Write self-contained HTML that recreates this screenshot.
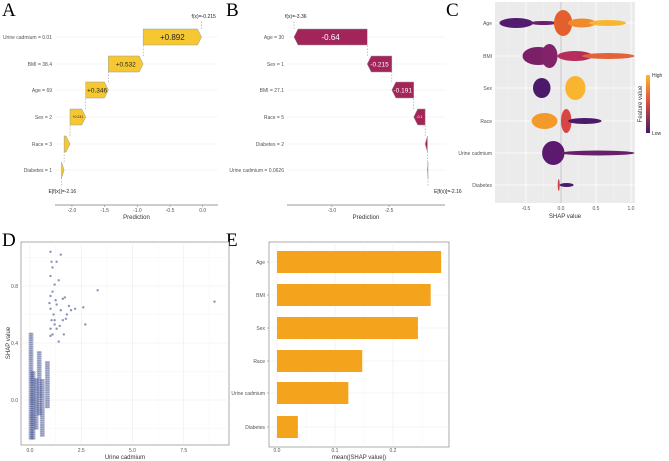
<!DOCTYPE html>
<html><head><meta charset="utf-8"><style>
html,body{margin:0;padding:0;background:#fff}
svg{display:block;font-family:"Liberation Sans",sans-serif}
.pl{font-family:"Liberation Serif",serif;font-size:19px}
</style></head><body>
<svg id="s" width="669" height="461" viewBox="0 0 669 461" xmlns="http://www.w3.org/2000/svg">
<text class="pl" x="2" y="16">A</text>
<text class="pl" x="226" y="16">B</text>
<text class="pl" x="446" y="16">C</text>
<text class="pl" x="2" y="246">D</text>
<text class="pl" x="226" y="246">E</text>
</svg>
<script>
// ---- Panel A data
const aLabels=["Urine cadmium = 0.01","BMI = 38.4","Age = 69","Sex = 2","Race = 3","Diabetes = 1"];
const aValues=[0.892,0.532,0.346,0.241,0.09,0.04];
const aBase=-2.16;
const aTicks=[-2.0,-1.5,-1.0,-0.5,0.0];
// ---- Panel B data
const bLabels=["Age = 30","Sex = 1","BMI = 27.1","Race = 5","Diabetes = 2","Urine cadmium = 0.0626"];
const bValues=[-0.64,-0.215,-0.191,-0.1,-0.02,-0.005];
const bBase=-2.16;
const bTicks=[-3.0,-2.5];
// ---- Panel C data
const cFeatures=["Age","BMI","Sex","Race","Urine cadmium","Diabetes"];
const cBlobs=[
 [[-0.88,-0.4,5,"#521b6e"],[-0.45,-0.05,2,"#6a1f6e"],[-0.1,0.16,13,"#e3602e"],[0.1,0.5,4.5,"#f08a2a"],[0.4,0.93,3,"#f9b530"]],
 [[-0.55,-0.1,9,"#7a2068"],[-0.28,-0.05,12,"#82236a"],[-0.05,0.45,5,"#b42d5c"],[0.3,1.05,3,"#e4623a"]],
 [[-0.4,-0.15,10,"#4b1a6b"],[0.06,0.35,12,"#f9b530"]],
 [[-0.42,-0.05,8,"#f39a2a"],[0.0,0.15,12,"#d94545"],[0.1,0.58,3,"#4b1a6b"]],
 [[-0.27,0.05,12,"#5c1a6e"],[0.0,1.05,2.5,"#6a1f6e"]],
 [[-0.045,-0.02,6,"#d0414a"],[-0.02,0.18,2,"#4b1a6b"]]
];
const cTicks=[-0.5,0.0,0.5,1.0];
// ---- Panel D data
const dColumns=[[0.05,-0.27,0.47],[0.15,-0.27,0.2],[0.3,-0.2,0.15],[0.45,-0.1,0.35],[0.6,-0.25,0.15],[0.85,-0.05,0.27]];
const dPoints=[[1.0,1.04],[1.05,0.97],[1.5,1.02],[1.3,0.97],[1.1,0.93],[1.4,0.84],[1.2,0.81],[1.0,0.87],[1.1,0.76],[1.0,0.73],[1.6,0.71],[1.7,0.72],[1.3,0.67],[1.9,0.66],[2.2,0.64],[1.0,0.64],[1.15,0.6],[1.5,0.63],[1.8,0.6],[2.0,0.63],[1.05,0.56],[1.2,0.56],[1.6,0.56],[1.75,0.57],[1.0,0.5],[1.3,0.5],[1.1,0.46],[1.4,0.41],[1.65,0.46],[1.0,0.45],[1.2,0.53],[1.45,0.52],[0.95,0.68],[1.25,0.7],[2.6,0.65],[2.7,0.53],[3.3,0.77],[9.0,0.69]];
const dXTicks=[0.0,2.5,5.0,7.5];
const dYTicks=[0.0,0.4,0.8];
// ---- Panel E data
const eFeatures=["Age","BMI","Sex","Race","Urine cadmium","Diabetes"];
const eValues=[0.283,0.265,0.243,0.147,0.123,0.036];
const eTicks=[0.0,0.1,0.2];

const svg=document.getElementById('s');
const NS="http://www.w3.org/2000/svg";
function mk(tag,attrs,text){const e=document.createElementNS(NS,tag);for(const k in attrs)e.setAttribute(k,attrs[k]);if(text!==undefined)e.textContent=text;svg.appendChild(e);return e;}

const rowY=[37,64,90,117,144,170];

function waterfall(labels,values,base,ticks,pxBase,pxEnd,plotL,plotR,labelX,fill,txtColor,key,eLabel,fLabel,flipLabels){
  const total=values.reduce((a,b)=>a+b,0);
  const k=(pxEnd-pxBase)/total;
  const X=v=>pxBase+(v-base)*k;
  rowY.forEach((y,i)=>{
    let g=mk('line',{x1:plotL,x2:plotR,y1:y,y2:y,stroke:'#ebebeb','stroke-width':0.6});
    
    let t=mk('text',{x:labelX,y:y+2,'font-size':5,fill:'#555','text-anchor':'end'},labels[i]);
    
  });
  let cum=base;
  for(let i=values.length-1;i>=0;i--){
    const v=values[i];const s=cum,e=cum+v;cum=e;
    const x0=X(s),x1=X(e),y=rowY[i],h=8;
    const dir=v>=0?1:-1;const w=Math.abs(x1-x0);const a=Math.min(4,w);
    const pts=[[x0,y-h],[x1-dir*a,y-h],[x1,y],[x1-dir*a,y+h],[x0,y+h]].map(p=>p.join(',')).join(' ');
    const p=mk('polygon',{points:pts,fill:fill,stroke:'#999','stroke-width':0.5});
    
    if(w>10){
      const fs=w>40?8:(w>20?6.5:3.5);
      const t=mk('text',{x:(x0+x1)/2,y:y+fs*0.35,'font-size':fs,fill:txtColor,'text-anchor':'middle'},(v>0?'+':'')+v);
      
    }
    if(i>0){const c=mk('line',{x1:x1,x2:x1,y1:y-h,y2:rowY[i-1]+h,stroke:'#888','stroke-width':0.5,'stroke-dasharray':'1.5,1.5'});
      }
  }
  const bx=X(base),fx=X(base+total);
  let l1=mk('line',{x1:bx,x2:bx,y1:rowY[5]+8,y2:186,stroke:'#888','stroke-width':0.5,'stroke-dasharray':'1.5,1.5'});
  
  let l2=mk('line',{x1:fx,x2:fx,y1:rowY[0]-8,y2:20,stroke:'#888','stroke-width':0.5,'stroke-dasharray':'1.5,1.5'});
  
  let t1=mk('text',{x:bx+(flipLabels?6:-13),y:193,'font-size':5,fill:'#222'},eLabel);
  
  let t2=mk('text',{x:fx+(flipLabels?-9:-10),y:18,'font-size':5,fill:'#222'},fLabel);
  
  let ax=mk('line',{x1:plotL,x2:plotR,y1:205,y2:205,stroke:'#777','stroke-width':0.8});
  
  ticks.forEach(tv=>{const tx=X(tv);
    let tk=mk('line',{x1:tx,x2:tx,y1:205,y2:207,stroke:'#777','stroke-width':0.5});
    
    let tl=mk('text',{x:tx,y:212,'font-size':5,fill:'#555','text-anchor':'middle'},tv.toFixed(1));
    });
  let at=mk('text',{x:(plotL+plotR)/2,y:219,'font-size':6,fill:'#333','text-anchor':'middle'},'Prediction');
  
}
waterfall(aLabels,aValues,aBase,aTicks,61.5,201.5,55,218,52,'#f5c832','#222','waterfall-a','E[f(x)]=-2.16','f(x)=-0.215',false);
waterfall(bLabels,bValues,bBase,bTicks,428,294,287,445,284,'#a32459','#fff','waterfall-b','E[f(x)]=-2.16','f(x)=-3.36',true);

// ---- Panel C
(function(){
  const L=495,R=635,T=2,B=203;const X=v=>561+70*v;
  let bg=mk('rect',{x:L,y:T,width:R-L,height:B-T,fill:'#ebebeb'});
  
  [-0.75,-0.25,0.25,0.75].forEach(v=>{let g=mk('line',{x1:X(v),x2:X(v),y1:T,y2:B,stroke:'#f5f5f5','stroke-width':0.4});
    });
  cTicks.forEach(v=>{let g=mk('line',{x1:X(v),x2:X(v),y1:T,y2:B,stroke:'#fff','stroke-width':0.8});
    
    let t=mk('text',{x:X(v),y:210,'font-size':5,fill:'#555','text-anchor':'middle'},v.toFixed(1));
    });
  const cy=[23,56,88,121,153,185];
  cFeatures.forEach((f,i)=>{
    let g=mk('line',{x1:L,x2:R,y1:cy[i],y2:cy[i],stroke:'#fff','stroke-width':0.8});
    
    let t=mk('text',{x:L-3,y:cy[i]+2,'font-size':5,fill:'#555','text-anchor':'end'},f);
    
  });
  let z=mk('line',{x1:X(0),x2:X(0),y1:T,y2:B,stroke:'#bbb','stroke-width':0.8});
  
  cBlobs.forEach((bl,i)=>bl.forEach(b=>{
    const x0=X(b[0]),x1=X(b[1]);
    let e=mk('ellipse',{cx:(x0+x1)/2,cy:cy[i],rx:Math.max((x1-x0)/2,1),ry:b[2],fill:b[3]});
    
  }));
  let xt=mk('text',{x:(L+R)/2,y:218,'font-size':6,fill:'#333','text-anchor':'middle'},'SHAP value');
  
  const defs=mk('defs',{});
  defs.innerHTML='<linearGradient id="cg" x1="0" y1="0" x2="0" y2="1"><stop offset="0" stop-color="#fbb92f"/><stop offset="0.45" stop-color="#e0503a"/><stop offset="1" stop-color="#3e1a6b"/></linearGradient>';
  let lg=mk('rect',{x:646,y:75,width:4,height:58,fill:'url(#cg)'});
  
  let h=mk('text',{x:652,y:77,'font-size':5,fill:'#333'},'High');
  
  let lo=mk('text',{x:652,y:135,'font-size':5,fill:'#333'},'Low');
  
  let lt=mk('text',{x:0,y:0,'font-size':6,fill:'#333','text-anchor':'middle',transform:'translate(642,104) rotate(-90)'},'Feature value');
  
})();

// ---- Panel D
(function(){
  const L=21,R=229,T=242,B=445;const X=v=>30+20.5*v;const Y=v=>400-142.5*v;
  let fr=mk('rect',{x:L,y:T,width:R-L,height:B-T,fill:'#fff',stroke:'#888','stroke-width':0.7});
  
  [1.25,3.75,6.25,8.75].forEach(v=>{let g=mk('line',{x1:X(v),x2:X(v),y1:T,y2:B,stroke:'#f4f4f4','stroke-width':0.4});
    });
  [-0.2,0.2,0.6,1.0].forEach(v=>{let g=mk('line',{x1:L,x2:R,y1:Y(v),y2:Y(v),stroke:'#f4f4f4','stroke-width':0.4});
    });
  dXTicks.forEach(v=>{let g=mk('line',{x1:X(v),x2:X(v),y1:T,y2:B,stroke:'#ebebeb','stroke-width':0.6});
    
    let t=mk('text',{x:X(v),y:452,'font-size':5,fill:'#555','text-anchor':'middle'},v.toFixed(1));
    });
  dYTicks.forEach(v=>{let g=mk('line',{x1:L,x2:R,y1:Y(v),y2:Y(v),stroke:'#ebebeb','stroke-width':0.6});
    
    let t=mk('text',{x:L-3,y:Y(v)+2,'font-size':5,fill:'#555','text-anchor':'end'},v.toFixed(1));
    });
  dColumns.forEach(c=>{for(let y=c[1];y<=c[2];y+=0.015){for(let dx=-0.07;dx<=0.07;dx+=0.07){
    let p=mk('circle',{cx:X(c[0]+dx),cy:Y(y),r:1.1,fill:'#3a4a8c','fill-opacity':0.45});
    }}});
  dPoints.forEach(d=>{let p=mk('circle',{cx:X(d[0]),cy:Y(d[1]),r:1.2,fill:'#5a66a0','fill-opacity':0.7});
    });
  let xt=mk('text',{x:(L+R)/2,y:459,'font-size':6,fill:'#333','text-anchor':'middle'},'Urine cadmium');
  
  let yt=mk('text',{x:0,y:0,'font-size':6,fill:'#333','text-anchor':'middle',transform:'translate(10,343) rotate(-90)'},'SHAP value');
  
})();

// ---- Panel E
(function(){
  const L=269,R=449,T=242,B=447;const X=v=>277+580*v;const ys=[262,295,328,361,393,427];
  let fr=mk('rect',{x:L,y:T,width:R-L,height:B-T,fill:'#fff',stroke:'#888','stroke-width':0.7});
  
  [0.05,0.15,0.25].forEach(v=>{let g=mk('line',{x1:X(v),x2:X(v),y1:T,y2:B,stroke:'#f4f4f4','stroke-width':0.4});
    });
  eTicks.forEach(v=>{let g=mk('line',{x1:X(v),x2:X(v),y1:T,y2:B,stroke:'#ebebeb','stroke-width':0.6});
    
    let t=mk('text',{x:X(v),y:452,'font-size':5,fill:'#555','text-anchor':'middle'},v.toFixed(1));
    });
  eFeatures.forEach((f,i)=>{
    let g=mk('line',{x1:L,x2:R,y1:ys[i],y2:ys[i],stroke:'#ebebeb','stroke-width':0.6});
    
    let b=mk('rect',{x:X(0),y:ys[i]-11,width:X(eValues[i])-X(0),height:22,fill:'#f4a41c'});
    
    let t=mk('text',{x:L-4,y:ys[i]+2,'font-size':5,fill:'#555','text-anchor':'end'},f);
    
    let tk=mk('line',{x1:L-2,x2:L,y1:ys[i],y2:ys[i],stroke:'#777','stroke-width':0.5});
    
  });
  let xt=mk('text',{x:(L+R)/2,y:459,'font-size':6,fill:'#333','text-anchor':'middle'},'mean(|SHAP value|)');
  
})();
</script>
</body></html>
